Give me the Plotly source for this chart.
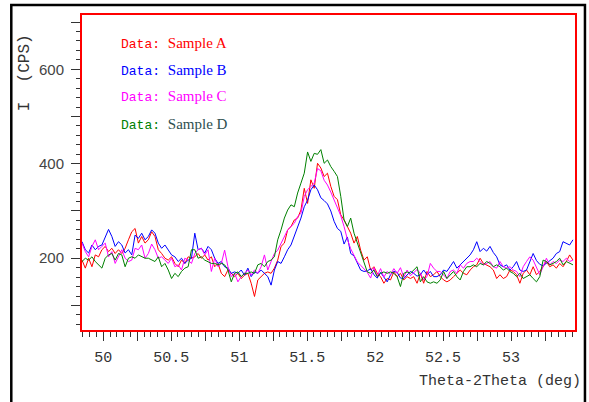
import numpy as np
import plotly.graph_objects as go

# scan axis (deg), evenly stepped instrument grid
theta_start = 49.844
theta_end = 53.455

sample_a = [196, 179, 200, 182, 207, 203, 218, 225, 214, 221, 210, 218, 210, 221, 239, 256, 263, 232, 246, 232,
            239, 256, 246, 218, 210, 200, 196, 203, 189, 182, 196, 189, 203, 200, 203, 210, 200, 207, 196, 203,
            182, 189, 168, 161, 175, 168, 161, 168, 157, 164, 168, 147, 119, 154, 161, 168, 171, 168, 179, 196,
            225, 232, 260, 267, 281, 285, 302, 348, 316, 366, 348,
            401, 391, 373, 380, 352, 331, 324, 292, 281, 267, 253, 232, 246, 217, 196, 203, 175, 182, 168, 161,
            147, 157, 154, 171, 161, 168, 154, 161, 157, 161, 147,
            168, 147, 172, 161, 165, 172, 161, 154, 150, 154, 161, 168, 175, 168, 165, 175, 182, 186, 200, 189,
            186, 182, 175, 157,
            165, 157, 161, 175, 172, 165, 147, 168, 175, 165, 182, 165, 172, 182, 193, 182, 186, 179, 189, 182,
            193, 207, 196]

sample_b = [235, 218, 211, 228, 218, 225, 228, 246, 261, 246, 225, 235, 228, 211, 218, 207, 249, 242, 253, 239,
            246, 260, 253, 232, 221, 228, 218, 207, 203, 193, 200, 189, 196, 200, 253, 218, 221, 211, 225, 218,
            200, 189, 193, 182, 179, 168, 171, 168, 175, 164, 179, 161, 171, 168, 175, 168, 161, 143, 175, 193,
            189, 203, 218, 228, 246, 267, 285, 309, 323, 345, 355,
            345, 328, 322, 315, 300, 278, 263, 257, 230, 245, 210, 205, 190, 175, 172, 173, 178, 165, 158, 170,
            160, 150, 165, 172, 170, 158, 157, 165, 172, 168, 162,
            165, 175, 165, 172, 161, 161, 165, 175, 172, 182, 193, 179, 186, 193, 200, 207, 218, 235, 214, 221,
            215, 225, 212, 203,
            186, 182, 186, 175, 182, 193, 175, 172, 175, 193, 210, 195, 187, 184, 190, 196, 200, 210, 214, 235,
            232, 228, 239]

sample_c = [232, 214, 203, 225, 239, 218, 225, 232, 203, 214, 189, 203, 218, 200, 193, 196, 221, 218, 228, 200,
            210, 230, 218, 200, 203, 196, 189, 200, 182, 186, 175, 200, 196, 189, 210, 218, 221, 207, 218, 172,
            200, 182, 189, 217, 182, 161, 168, 150, 161, 168, 175, 164, 175, 168, 182, 207, 175, 193, 210, 217,
            232, 246, 260, 267, 274, 288, 295, 331, 345, 352, 359,
            390, 385, 365, 355, 340, 323, 309, 290, 267, 240, 220, 205, 192, 185, 178, 170, 158, 180, 162, 178,
            160, 172, 165, 178, 168, 180, 160, 175, 163, 170, 176,
            168, 154, 161, 189, 179, 172, 172, 165, 157, 172, 175, 168, 186, 179, 189, 193, 193, 200, 193, 186,
            189, 193, 182, 179,
            193, 182, 179, 182, 175, 172, 161, 182, 193, 203, 196, 182, 165, 182, 200, 186, 193, 189, 196, 193,
            200, 193, 196]

sample_d = [193, 200, 196, 203, 193, 186, 179, 200, 207, 210, 196, 210, 207, 182, 200, 203, 200, 207, 203, 200,
            200, 196, 193, 203, 182, 189, 175, 157, 168, 161, 172, 179, 182, 218, 218, 200, 203, 196, 193, 189,
            189, 186, 189, 186, 175, 150, 168, 171, 161, 168, 168, 171, 168, 186, 189, 182, 193, 196, 203, 239,
            260, 285, 302, 313, 309, 338, 359, 380, 425, 405, 422,
            420, 430, 401, 408, 394, 384, 373, 331, 281, 267, 285, 253, 232, 210, 193, 171, 168, 175, 161, 168,
            171, 168, 171, 168, 161, 140, 168, 171, 168, 175, 182,
            150, 161, 150, 147, 150, 147, 154, 172, 157, 165, 172, 161, 154, 172, 182, 182, 186, 182, 189, 186,
            193, 189, 182, 186,
            182, 175, 179, 172, 168, 161, 168, 157, 161, 165, 157, 150, 161, 196, 193, 186, 189, 193, 200, 186,
            193, 189, 186]

series_names = ["Sample A", "Sample B", "Sample C", "Sample D"]
series_colors = ["#FF0000", "#0000FF", "#FF00FF", "#008000"]
name_colors = ["#FF0000", "#0000FF", "#FF00FF", "#2F4F4F"]

x_major = [50, 50.5, 51, 51.5, 52, 52.5, 53]
x_mid = [49.75, 50, 50.25, 50.5, 50.75, 51, 51.25, 51.5, 51.75, 52, 52.25, 52.5, 52.75, 53, 53.25]
x_mid_text = ["", "50", "", "50.5", "", "51", "", "51.5", "", "52", "", "52.5", "", "53", ""]
y_tickvals = [100, 200, 300, 400, 500, 600, 700]
y_ticktext = ["", "200", "", "400", "", "600", ""]

n = len(sample_a)
theta = np.linspace(theta_start, theta_end, n)

fig = go.Figure()
for vals, nm, col in zip([sample_a, sample_b, sample_c, sample_d], series_names, series_colors):
    fig.add_trace(go.Scatter(x=theta[:len(vals)], y=vals, mode="lines", name=nm,
                             line=dict(color=col, width=1), showlegend=False))

L, R, T, B = 82, 12, 15, 72
W, H = 589, 402
pw, ph = W - L - R, H - T - B
XR = [49.844, 53.47]


def px2paper_x(px):
    return (px - L) / pw


def py2paper_y(py):
    return (H - B - py) / ph


tick_col = "#333333"
fig.update_layout(
    width=W, height=H,
    margin=dict(l=L, r=R, t=T, b=B, pad=0),
    paper_bgcolor="white", plot_bgcolor="white",
    xaxis=dict(range=XR, showgrid=False, zeroline=False,
               showline=True, linecolor="#FF0000", linewidth=2, mirror=True,
               tickvals=x_mid, ticktext=x_mid_text,
               ticks="outside", ticklen=9, tickwidth=1, tickcolor=tick_col,
               ticklabelstandoff=3,
               tickfont=dict(family="Liberation Mono", size=15, color=tick_col),
               minor=dict(dtick=0.05, tick0=50, ticks="outside", ticklen=5, tickcolor=tick_col, tickwidth=1)),
    xaxis2=dict(range=XR, overlaying="x", anchor="y", side="bottom", showgrid=False, zeroline=False,
                showline=False, tickvals=x_major, showticklabels=False,
                ticks="outside", ticklen=13, tickwidth=1, tickcolor=tick_col),
    yaxis=dict(range=[48, 715], showgrid=False, zeroline=False,
               showline=True, linecolor="#FF0000", linewidth=2, mirror=True,
               tickvals=y_tickvals, ticktext=y_ticktext,
               ticks="outside", ticklen=9, tickwidth=1, tickcolor=tick_col,
               ticklabelstandoff=4,
               tickfont=dict(family="Liberation Sans", size=15, color="#444444"),
               minor=dict(dtick=20, tick0=0, ticks="outside", ticklen=4, tickcolor=tick_col, tickwidth=1)),
)

# outer black frame
fig.add_shape(type="rect", xref="paper", yref="paper",
              x0=px2paper_x(11), x1=px2paper_x(587), y0=py2paper_y(410), y1=py2paper_y(5),
              line=dict(color="black", width=2.5), fillcolor="rgba(0,0,0,0)", layer="above")

# axis titles
fig.add_annotation(text="I  (CPS)", xref="paper", yref="paper",
                   x=px2paper_x(25), y=py2paper_y(73), textangle=-90, showarrow=False,
                   xanchor="center", yanchor="middle",
                   font=dict(family="Liberation Mono", size=16, color=tick_col))
fig.add_annotation(text="Theta-2Theta (deg)", xref="paper", yref="paper",
                   x=px2paper_x(585), y=py2paper_y(381), showarrow=False,
                   xanchor="right", yanchor="middle",
                   font=dict(family="Liberation Mono", size=15, color=tick_col))

# in-plot legend text
legend_y = [43, 70, 97, 124]
for nm, col, ncol, ly in zip(series_names, series_colors, name_colors, legend_y):
    txt = ('<span style="font-family:Liberation Mono;font-size:13px">Data: </span>'
           f'<span style="font-family:Liberation Serif;font-size:15px;color:{ncol}">{nm}</span>')
    fig.add_annotation(text=txt, xref="paper", yref="paper",
                       x=px2paper_x(119), y=py2paper_y(ly), showarrow=False,
                       xanchor="left", yanchor="middle",
                       font=dict(family="Liberation Mono", size=13, color=col))

fig.write_html("out.html", config={"displayModeBar": False},
               post_script="document.body.style.margin='0px';")
